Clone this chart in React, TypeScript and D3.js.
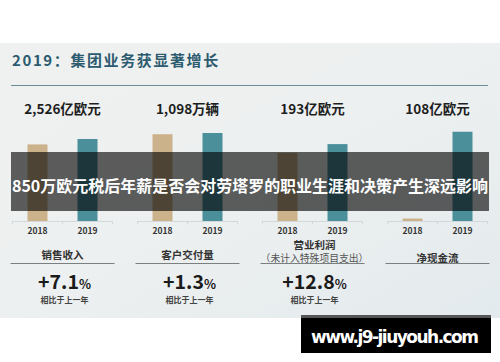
import * as d3 from "d3";

// values (亿欧元 / 万辆)
const groups = ["销售收入", "客户交付量", "营业利润", "净现金流"];
const groupNotes = ["", "", "（未计入特殊项目支出）", ""];
const years = ["2018", "2019"];
const values2018 = [2359, 1083, 171, 3];
const values2019 = [2526, 1098, 193, 108];
const scaleMax = [3080, 1248, 251, 121];
const headlines = ["2,526亿欧元", "1,098万辆", "193亿欧元", "108亿欧元"];
const growth = ["+7.1", "+1.3", "+12.8", ""];

const W = 500;
const H = 362;
const FONT = "'Noto Sans CJK SC', 'Noto Sans', sans-serif";
const yearColors = ["#cbb28b", "#4b8f9b"];

export default function App() {
  const x = d3.scaleBand<string>().domain(groups).range([0, W]);
  const inner = d3
    .scaleBand<string>()
    .domain(years)
    .range([0, 100])
    .paddingInner(0.6)
    .paddingOuter(0.3);
  const baseY = 221;

  return (
    <svg
      width={W}
      height={H}
      style={{ position: "absolute", left: 0, top: 0, background: "#fff" }}
      fontFamily={FONT}
    >
      <defs>
        <linearGradient id="bg" x1="0" y1="0" x2="1" y2="1">
          <stop offset="0" stopColor="#eff1f0" />
          <stop offset="0.5" stopColor="#edf0f0" />
          <stop offset="1" stopColor="#e3eaed" />
        </linearGradient>
      </defs>
      <rect x={0} y={43} width={W} height={275} fill="url(#bg)" />

      {/* title */}
      <text x={12} y={66} fontSize={15} fontWeight="bold" fill="#2c5b6f" letterSpacing={1.6}>
        2019：集团业务获显著增长
      </text>
      <line x1={11} x2={488} y1={85.5} y2={85.5} stroke="#6a8d98" strokeWidth={1} />

      {groups.map((g, i) => {
        const x0 = (x(g) ?? 0) + (x.bandwidth() - 100) / 2;
        const cx = (x(g) ?? 0) + x.bandwidth() / 2;
        const y = d3.scaleLinear().domain([0, scaleMax[i]]).range([baseY, baseY - 100]);
        const vals = [values2018[i], values2019[i]];
        return (
          <g key={g}>
            <text x={cx} y={114} textAnchor="middle" fontSize={13.5} fontWeight="bold" fill="#1e1e1e">
              {headlines[i]}
            </text>
            <line x1={x0} x2={x0 + 100} y1={baseY + 0.5} y2={baseY + 0.5} stroke="#d3d9da" />
            {[0, 50, 100].map((t) => (
              <line key={t} x1={x0 + t} x2={x0 + t} y1={baseY} y2={baseY + 3} stroke="#d3d9da" />
            ))}
            {years.map((yr, j) => (
              <g key={yr}>
                <rect
                  x={x0 + (inner(yr) ?? 0)}
                  y={y(vals[j])}
                  width={inner.bandwidth()}
                  height={baseY - y(vals[j])}
                  fill={yearColors[j]}
                />
                <text
                  x={x0 + (inner(yr) ?? 0) + inner.bandwidth() / 2}
                  y={234}
                  textAnchor="middle"
                  fontSize={8.5}
                  fontWeight="bold"
                  fill="#333"
                >
                  {yr}
                </text>
              </g>
            ))}
            {groupNotes[i] ? (
              <>
                <text x={cx + 2} y={249} textAnchor="middle" fontSize={10.5} fontWeight="bold" fill="#333">
                  {g}
                </text>
                <text x={cx + 2} y={262} textAnchor="middle" fontSize={9.8} fill="#555">
                  {groupNotes[i]}
                </text>
              </>
            ) : (
              <text x={cx} y={i === 3 ? 261.5 : 259} textAnchor="middle" fontSize={10.5} fontWeight="bold" fill="#333">
                {g}
              </text>
            )}
            <line x1={cx - 52} x2={cx + 52} y1={263.5} y2={263.5} stroke="#7a7f80" strokeWidth={1} />
            {growth[i] && (
              <>
                <text x={cx + 2} y={289} textAnchor="middle" fontWeight="bold" fill="#1a1a1a">
                  <tspan fontSize={19.5}>{growth[i]}</tspan>
                  <tspan fontSize={12.5}>%</tspan>
                </text>
                <text x={cx + 2} y={303} textAnchor="middle" fontSize={8} fontWeight="bold" fill="#444">
                  相比于上一年
                </text>
              </>
            )}
          </g>
        );
      })}

      {/* banner overlay */}
      <rect x={11} y={152} width={478} height={59} fill="#000" opacity={0.62} />
      <text x={250} y={192} textAnchor="middle" fontSize={16} fontWeight="bold" fill="#fff" textLength={476}>
        850万欧元税后年薪是否会对劳塔罗的职业生涯和决策产生深远影响
      </text>

      {/* watermark */}
      <rect x={301} y={315} width={190} height={38} fill="#000" />
      <rect x={301} y={315} width={190} height={3} fill="#555" />
      <text
        x={395}
        y={343}
        textAnchor="middle"
        fontSize={17}
        fontWeight="bold"
        fill="#fff"
        fontFamily="'DejaVu Sans', sans-serif"
        textLength={168}
      >
        www.j9-jiuyouh.com
      </text>
    </svg>
  );
}
